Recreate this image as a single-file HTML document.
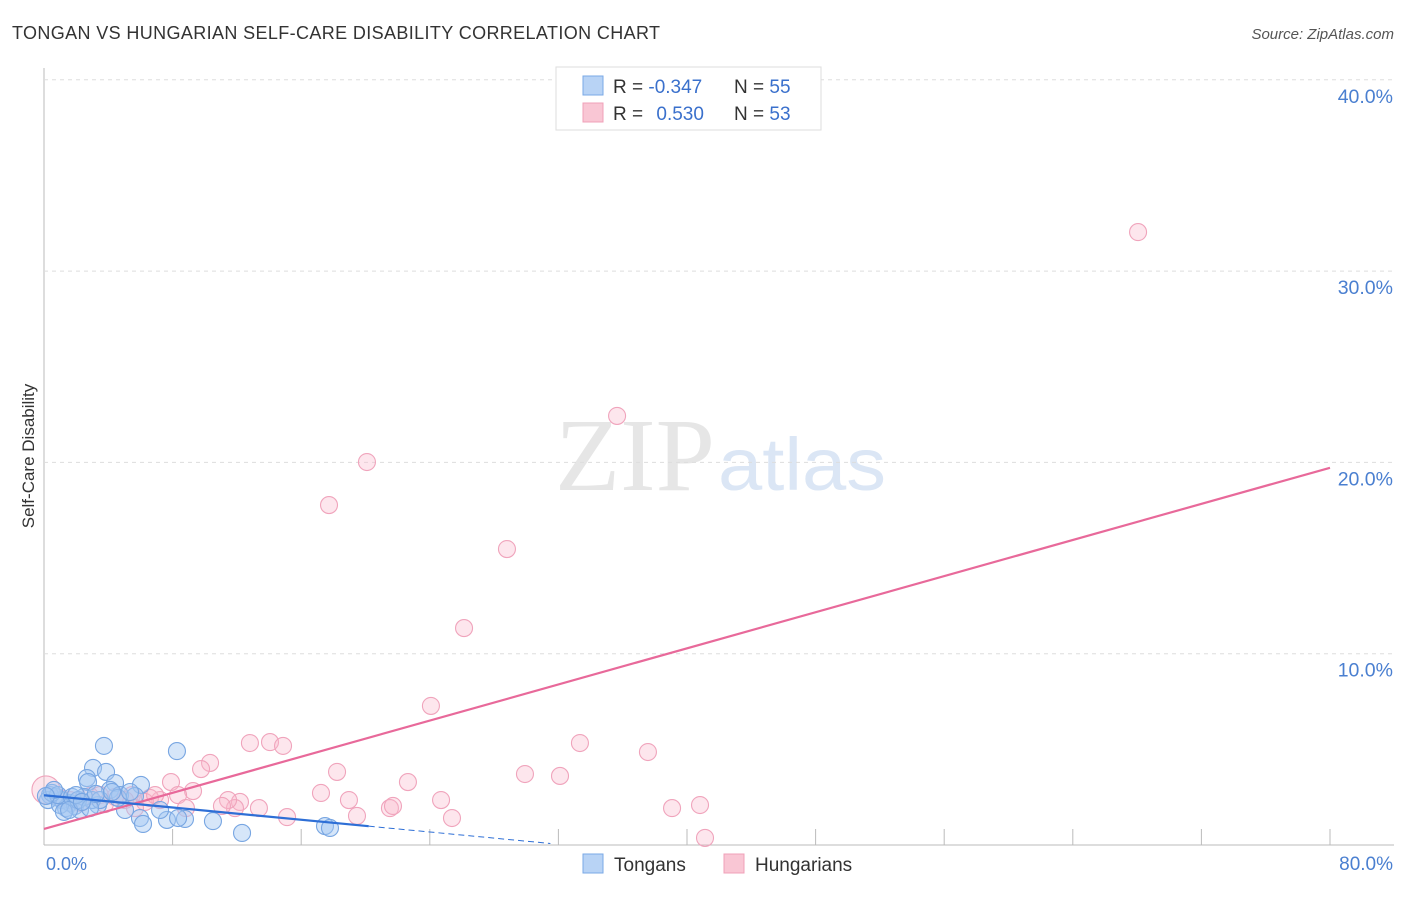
<!DOCTYPE html>
<html><head><meta charset="utf-8"><style>
body{margin:0;background:#fff;font-family:"Liberation Sans",sans-serif}
</style></head><body>
<svg width="1406" height="892" xmlns="http://www.w3.org/2000/svg" font-family="Liberation Sans, sans-serif">
<text x="12" y="39" font-size="18" fill="#333" textLength="648">TONGAN VS HUNGARIAN SELF-CARE DISABILITY CORRELATION CHART</text>
<text x="1394" y="39" font-size="15" fill="#555" text-anchor="end" font-style="italic">Source: ZipAtlas.com</text>
<text x="555" y="490" font-size="104" fill="#e6e6e6" textLength="160" lengthAdjust="spacingAndGlyphs" font-family="Liberation Serif, serif">ZIP</text>
<text x="718" y="490" font-size="74" fill="#dbe6f5" textLength="168" lengthAdjust="spacingAndGlyphs">atlas</text>
<g id="grid"></g>
<g id="pts"></g>
<g id="lines"></g>
<text transform="translate(34,456) rotate(-90)" font-size="17" fill="#333" text-anchor="middle">Self-Care Disability</text>
<text x="46" y="870" font-size="18" fill="#4a7fd0">0.0%</text>
<text x="1393" y="870" font-size="19" fill="#4a7fd0" text-anchor="end">80.0%</text>
<g>
<rect x="556" y="67" width="265" height="63" fill="#fff" stroke="#ddd"/>
<rect x="583" y="76" width="20" height="19" fill="#b8d3f5" stroke="#7aa8e6"/>
<rect x="583" y="103" width="20" height="19" fill="#f9c6d4" stroke="#f0a0b8"/>
<text x="613" y="93" font-size="19" fill="#333">R = <tspan fill="#3a70cc">-0.347</tspan></text>
<text x="734" y="93" font-size="19" fill="#333">N = <tspan fill="#3a70cc">55</tspan></text>
<text x="613" y="120" font-size="19" fill="#333">R = <tspan fill="#3a70cc" dx="8">0.530</tspan></text>
<text x="734" y="120" font-size="19" fill="#333">N = <tspan fill="#3a70cc">53</tspan></text>
</g>
<g>
<rect x="583" y="854" width="20" height="19" fill="#b8d3f5" stroke="#7aa8e6"/>
<text x="614" y="871" font-size="19" fill="#333">Tongans</text>
<rect x="724" y="854" width="20" height="19" fill="#f9c6d4" stroke="#f0a0b8"/>
<text x="755" y="871" font-size="19" fill="#333">Hungarians</text>
</g>
</svg>
<script>
const yTicks=[10,20,30,40];
const xTicks=[8,16,24,32,40,48,56,64,72,80];
const blueX=[3.73,8.27,3.05,3.86,2.67,4.42,6.03,2.74,0.75,1.12,1.62,0.37,0.25,1.37,1.93,2.24,1.00,3.36,2.99,2.49,4.11,4.73,5.04,5.97,6.16,7.65,8.77,8.34,10.51,12.32,17.48,17.79,0.50,0.87,1.74,2.12,3.48,4.60,5.66,1.24,1.56,2.86,0.62,0.12,1.99,2.36,3.23,5.35,4.23,7.22];
const blueY=[5.18,4.91,4.03,3.82,3.50,3.24,3.14,3.29,2.51,2.35,2.20,2.61,2.35,1.93,2.04,1.83,2.09,2.09,2.35,2.51,2.88,2.61,1.83,1.41,1.10,1.31,1.36,1.41,1.25,0.63,0.99,0.89,2.72,2.61,2.51,2.35,2.35,2.46,2.56,1.73,1.83,1.93,2.88,2.56,2.61,2.25,2.67,2.77,2.77,1.83];
const pinkX=[68.06,35.65,20.09,17.73,28.80,26.13,24.07,12.81,14.06,14.87,10.33,9.77,7.90,18.23,22.64,29.92,32.10,33.34,37.57,40.81,39.07,41.12,24.70,25.38,21.52,21.71,18.97,17.23,19.47,15.12,13.37,12.19,11.88,11.45,11.07,9.27,8.34,8.83,7.22,6.59,5.47,6.28,5.04,4.42,3.48,2.86,1.62,1.00,0.12,2.24,5.66,3.79,6.91];
const pinkY=[32.04,22.43,20.02,17.77,15.47,11.34,7.27,5.33,5.38,5.18,4.29,3.97,3.29,3.82,3.29,3.71,3.61,5.33,4.86,2.09,1.93,0.37,2.35,1.41,1.93,2.04,2.35,2.72,1.52,1.46,1.93,2.25,1.93,2.35,2.04,2.82,2.61,1.93,2.35,2.46,2.61,2.25,2.35,2.51,2.61,2.56,2.35,2.46,2.88,2.20,1.93,2.14,2.61];
const blueTrend=[2.6,-0.08];
const pinkTrend=[0.84,0.236];
const NS="http://www.w3.org/2000/svg";
const X0=44,X1=1330,Y0=845,YPX=19.13;
const sx=v=>X0+v/80*(X1-X0);
const sy=v=>Y0-v*YPX;
function mk(t,a,p){const e=document.createElementNS(NS,t);for(const k in a)e.setAttribute(k,a[k]);p.appendChild(e);return e;}
const grid=document.getElementById('grid');
mk('line',{x1:X0,y1:68,x2:X0,y2:Y0,stroke:'#bbb'},grid);
mk('line',{x1:X0,y1:Y0,x2:1394,y2:Y0,stroke:'#bbb'},grid);
yTicks.forEach(t=>{
 const l=mk('line',{x1:X0,y1:sy(t),x2:1394,y2:sy(t),stroke:'#ddd','stroke-dasharray':'4,4'},grid);
 
 
 const tx=mk('text',{x:1393,y:sy(t)+23,'font-size':19.5,fill:'#4a7fd0','text-anchor':'end'},grid);
 tx.textContent=t.toFixed(1)+'%';
 
 
});
xTicks.forEach(t=>{
 const l=mk('line',{x1:sx(t),y1:Y0,x2:sx(t),y2:Y0-16,stroke:'#bbb'},grid);
 
 
});
const pts=document.getElementById('pts');
pinkX.forEach((x,i)=>{
 const c=mk('circle',{cx:sx(x),cy:sy(pinkY[i]),r:i==48?14:8.5,fill:'rgba(248,182,202,0.35)',stroke:'#f0a4bc','stroke-width':1.1},pts);
 
 
});
blueX.forEach((x,i)=>{
 const c=mk('circle',{cx:sx(x),cy:sy(blueY[i]),r:8.5,fill:'rgba(165,200,242,0.45)',stroke:'#78a6e2','stroke-width':1.1},pts);
 
 
});
const ln=document.getElementById('lines');
let l=mk('line',{x1:sx(0),y1:sy(pinkTrend[0]),x2:sx(80),y2:sy(pinkTrend[0]+pinkTrend[1]*80),stroke:'#e8699a','stroke-width':2.2},ln);


l=mk('line',{x1:sx(0),y1:sy(blueTrend[0]),x2:sx(20.2),y2:sy(blueTrend[0]+blueTrend[1]*20.2),stroke:'#2e6fd6','stroke-width':2.2},ln);


l=mk('line',{x1:sx(20.2),y1:sy(blueTrend[0]+blueTrend[1]*20.2),x2:sx(31.5),y2:sy(blueTrend[0]+blueTrend[1]*31.5),stroke:'#2e6fd6','stroke-width':1,'stroke-dasharray':'6,4'},ln);


</script>
</body></html>
